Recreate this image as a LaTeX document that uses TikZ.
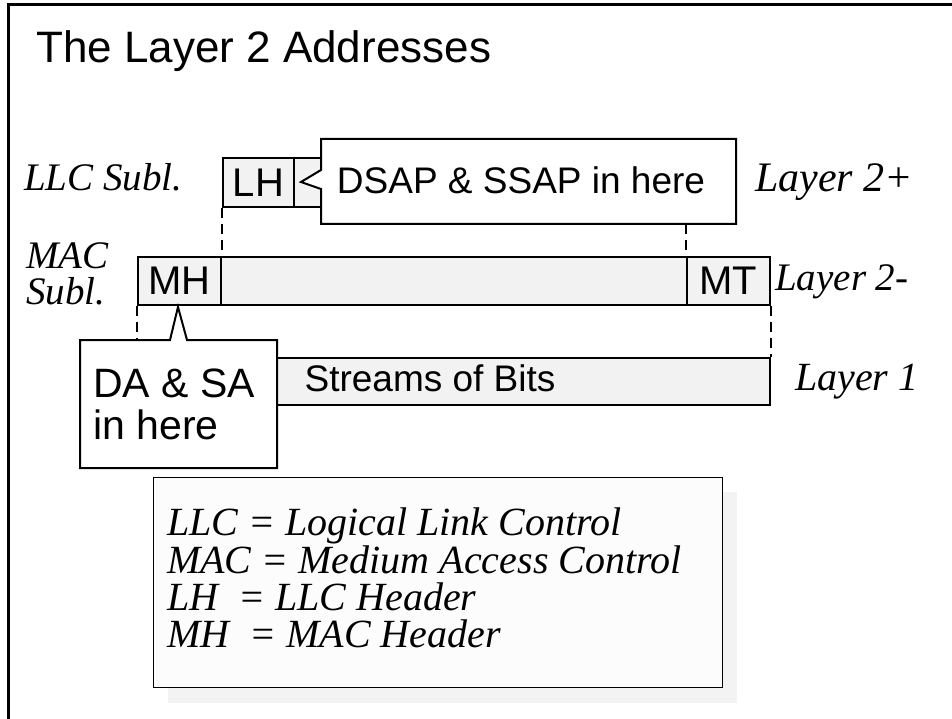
\documentclass[tikz,border=0pt]{standalone}
\usepackage{fontspec}
\setmainfont{Liberation Serif}
\newfontfamily\arialf{Liberation Sans}
\definecolor{barfill}{RGB}{242,242,242}
\definecolor{legfill}{RGB}{252,252,252}
\definecolor{shadowfill}{RGB}{243,243,243}
\begin{document}
\begin{tikzpicture}[x=1pt,y=-1pt,
  bar/.style={draw=black,line width=2pt,fill=barfill,inner sep=0pt,anchor=north west,
    font=\arialf\fontsize{40}{44}\selectfont},
  callout/.style={draw=black,line width=2pt,fill=white,line join=miter},
  dashline/.style={draw=black,line width=2pt,dash pattern=on 10pt off 6pt},
  sansbig/.style={font=\arialf\fontsize{41}{44}\selectfont,inner sep=0pt,anchor=base west},
  sansmid/.style={font=\arialf\fontsize{37}{40}\selectfont,inner sep=0pt,anchor=base},
  ital/.style={font=\itshape\fontsize{39}{40}\selectfont,inner sep=0pt,anchor=base west},
  legtext/.style={font=\itshape\fontsize{40}{40}\selectfont,inner sep=0pt,anchor=base west},
]
\useasboundingbox (0,0) rectangle (952,719);
% frame
\draw[line width=3pt] (952,5) -- (8,5) -- (8,719);
% title
\node[font=\arialf\fontsize{44}{48}\selectfont,inner sep=0pt,anchor=base west] (title) at (36,63) {The Layer 2 Addresses};

% LLC sublayer cells
\node[bar,minimum width=71pt,minimum height=49pt] (lh) at (222,157) {LH};
\node[bar,minimum width=40pt,minimum height=49pt] (lhx) at (293,157) {};
% MAC sublayer bar
\node[bar,minimum width=632pt,minimum height=48pt] (mac) at (137,256) {};
\node[bar,minimum width=83pt,minimum height=48pt] (mh) at (137,256) {MH};
\node[bar,minimum width=83pt,minimum height=48pt] (mt) at (686,256) {MT};
% Layer 1 bar
\node[bar,minimum width=509pt,minimum height=47pt] (l1) at (260,357) {};
\node[sansmid] (streams) at (430,391) {Streams of Bits};

% callout 1
\coordinate (c1b) at (687,224);
\draw[callout] (321,139) -- (736,139) -- (736,224) -- (321,224) -- (321,189) -- (301,182) -- (321,170) -- cycle;
\node[sansmid] (dsap) at (521,194) {DSAP \& SSAP in here};

% dashed connectors
\draw[dashline] (lh.south west) -- (lh.south west |- mac.north);
\draw[dashline] (mt.north west |- c1b) -- (mt.north west);
\coordinate (c2t) at (80,340);
\draw[dashline] (mac.south west) -- (mac.south west |- c2t);
\draw[dashline] (mac.south east) -- (l1.north east);

% callout 2
\draw[callout] (80,340) -- (170,340) -- (178,307) -- (187,340) -- (277,340) -- (277,468) -- (80,468) -- cycle;
\node[sansbig] (da1) at (93,397) {DA \& SA};
\node[sansbig] (da2) at (93,439) {in here};

% side labels
\node[ital] (llcs) at (24,191) {LLC Subl.};
\node[ital] (macs1) at (26,269) {MAC};
\node[ital] (macs2) at (26,304) {Subl.};
\node[ital,font=\itshape\fontsize{42}{42}\selectfont] (lay2p) at (755,192) {Layer 2+};
\node[ital] (lay2m) at (775,290) {Layer 2-};
\node[ital,font=\itshape\fontsize{40}{40}\selectfont] (lay1) at (795,390) {Layer 1};

% legend
\fill[shadowfill] (168,492) rectangle (737,703);
\node[draw=black,line width=1.3pt,fill=legfill,anchor=north west,minimum width=569pt,minimum height=210pt,inner sep=0pt] (legend) at (153,477) {};
\node[legtext] (leg1) at (167,535) {LLC = Logical Link Control};
\node[legtext] (leg2) at (167,573) {MAC = Medium Access Control};
\node[legtext] (leg3) at (167,610) {LH\enspace = LLC Header};
\node[legtext] (leg4) at (167,647) {MH\enspace = MAC Header};
\end{tikzpicture}
\end{document}
